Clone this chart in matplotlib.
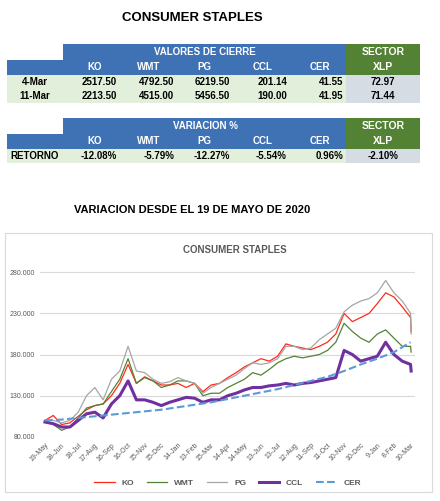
import pandas as pd
import matplotlib.pyplot as plt
import matplotlib.dates as mdates
from matplotlib.patches import Rectangle

plt.rcParams['font.family'] = ['Liberation Sans', 'DejaVu Sans']

# --- table data ---
tickers = ['KO', 'WMT', 'PG', 'CCL', 'CER']
fechas = ['4-Mar', '11-Mar']
cierre_4mar = ['2517.50', '4792.50', '6219.50', '201.14', '41.55']
cierre_11mar = ['2213.50', '4515.00', '5456.50', '190.00', '41.95']
xlp_cierre = ['72.97', '71.44']
retorno = ['-12.08%', '-5.79%', '-12.27%', '-5.54%', '0.96%']
xlp_retorno = '-2.10%'

# --- chart data (every 15 days from 19-May-2020) ---
fechas_serie = pd.date_range('2020-05-19', periods=45, freq='15D').append(pd.DatetimeIndex(['2021-03-11']))
fechas_serie = pd.DatetimeIndex([d.replace(year=d.year + 1) if False else d for d in fechas_serie])
ko = [100, 106, 95, 97, 105, 113, 118, 120, 130, 145, 168, 145, 153, 148, 143, 143, 145, 140, 145, 135,
      143, 145, 152, 158, 165, 170, 175, 172, 178, 193, 190, 188, 186, 190, 195, 205, 230, 220, 225, 230,
      242, 255, 250, 238, 225, 208]
pg = [100, 100, 97, 100, 110, 130, 140, 125, 150, 160, 190, 160, 158, 150, 145, 147, 152, 148, 145, 133,
      140, 145, 150, 155, 163, 170, 168, 170, 175, 190, 190, 186, 188, 198, 205, 212, 232, 240, 245, 248,
      255, 270, 255, 245, 230, 205]
wmt = [100, 95, 88, 92, 103, 115, 118, 120, 135, 150, 175, 145, 152, 148, 140, 143, 148, 148, 145, 130,
       133, 133, 140, 145, 150, 158, 155, 162, 170, 175, 178, 176, 178, 180, 185, 195, 218, 208, 200, 195,
       205, 210, 200, 190, 190, 183]
ccl = [98, 96, 92, 92, 100, 108, 110, 103, 120, 130, 148, 125, 125, 122, 118, 122, 125, 128, 127, 122,
       125, 125, 130, 133, 137, 140, 140, 142, 143, 145, 143, 145, 146, 148, 150, 152, 185, 180, 172, 175,
       178, 195, 180, 172, 168, 160]
fechas_cer = pd.date_range('2020-05-19', periods=23, freq='30D')
cer = [100, 101, 103, 105, 107, 109, 111, 113, 116, 119, 122, 126, 130, 134, 138, 143, 148, 153, 160,
       168, 175, 183, 195]

# the series spans two years: dates run from May-2020 to Mar-2022
fechas_serie = pd.DatetimeIndex(list(pd.date_range('2020-05-19', periods=45, freq='15D')) + [pd.Timestamp('2022-03-11')])

fig = plt.figure(figsize=(4.4, 5.01), dpi=100)
bg = fig.add_axes([0, 0, 1, 1])
bg.set_xlim(0, 440)
bg.set_ylim(501, 0)
bg.axis('off')

blue = '#3F72B5'
green = '#548235'
light = '#E2EFDA'
gray = '#D6DCE4'


def cell(x0, x1, y0, y1, color):
    bg.add_patch(Rectangle((x0, y0), x1 - x0, y1 - y0, facecolor=color, edgecolor='none'))


def txt(x, y, s, ha='center', color='black', size=7):
    bg.text(x, y, s, ha=ha, va='center', color=color, fontsize=size, fontweight='bold')


bg.text(192, 18, 'CONSUMER STAPLES', ha='center', va='center', fontsize=9.5, fontweight='bold')

cols = [7, 63, 120, 177, 233, 290, 346, 420]
hdr_x = [87, 137, 197, 253, 310]


def tabla(top, titulo, filas):
    cell(63, 346, top, top + 16, blue)
    cell(7, 346, top + 16, top + 31, blue)
    cell(346, 420, top, top + 31, green)
    txt(205, top + 8, titulo, color='white')
    txt(383, top + 8, 'SECTOR', color='white', size=7.5)
    txt(383, top + 23, 'XLP', color='white', size=7.5)
    for x, t in zip(hdr_x, tickers):
        txt(x, top + 23, t, ha='left', color='white')
    y = top + 31
    for etiqueta, valores, xlp in filas:
        cell(7, 346, y, y + 14, light)
        cell(346, 420, y, y + 14, gray)
        txt(35, y + 7, etiqueta)
        for c, v in enumerate(valores):
            txt(cols[c + 2] - 3, y + 7, v, ha='right')
        txt(383, y + 7, xlp)
        y += 14


tabla(44, 'VALORES DE CIERRE', [(fechas[0], cierre_4mar, xlp_cierre[0]),
                                 (fechas[1], cierre_11mar, xlp_cierre[1])])
tabla(118, 'VARIACION %', [('RETORNO', retorno, xlp_retorno)])

bg.text(192, 210, 'VARIACION DESDE EL 19 DE MAYO DE 2020', ha='center', va='center',
        fontsize=8, fontweight='bold')
bg.add_patch(Rectangle((5, 233), 427, 259, facecolor='white', edgecolor='#D9D9D9', lw=0.8))
bg.text(235, 250, 'CONSUMER STAPLES', ha='center', va='center', fontsize=7, fontweight='bold',
        color='#595959')

ax = fig.add_axes([40 / 440, 0.128, 375 / 440, 0.345])
ax.patch.set_alpha(0)
ax.plot(fechas_serie, ko, color='#FF2A1A', lw=0.9, label='KO')
ax.plot(fechas_serie, wmt, color='#548235', lw=0.9, label='WMT')
ax.plot(fechas_serie, pg, color='#A6A6A6', lw=0.9, label='PG')
ax.plot(fechas_serie, ccl, color='#7030A0', lw=2.2, label='CCL')
ax.plot(fechas_cer, cer, color='#5B9BD5', lw=1.5, ls='--', label='CER')

ax.set_ylim(80, 290)
ax.set_yticks([80, 130, 180, 230, 280])
ax.set_yticklabels(['80.000', '130.000', '180.000', '230.000', '280.000'])
ax.set_xlim(pd.Timestamp('2020-05-10'), pd.Timestamp('2022-03-18'))
ax.set_xticks(fechas_cer)
ax.xaxis.set_major_formatter(mdates.DateFormatter('%-d-%b'))
ax.tick_params(axis='x', labelrotation=45, labelsize=5, colors='#595959', length=0)
ax.tick_params(axis='y', labelsize=5, colors='#595959', length=0)
for lab in ax.get_xticklabels():
    lab.set_ha('right')
    lab.set_rotation_mode('anchor')
ax.grid(axis='y', color='#D9D9D9', lw=0.8)
ax.set_axisbelow(True)
for s in ax.spines.values():
    s.set_visible(False)

ax.legend(loc='upper center', bbox_to_anchor=(0.5, -0.2), ncol=5, frameon=False,
          prop={'size': 6, 'weight': 'bold'}, labelcolor='#595959', handlelength=2.5,
          columnspacing=1.5)

fig.savefig('out.png', dpi=100)
